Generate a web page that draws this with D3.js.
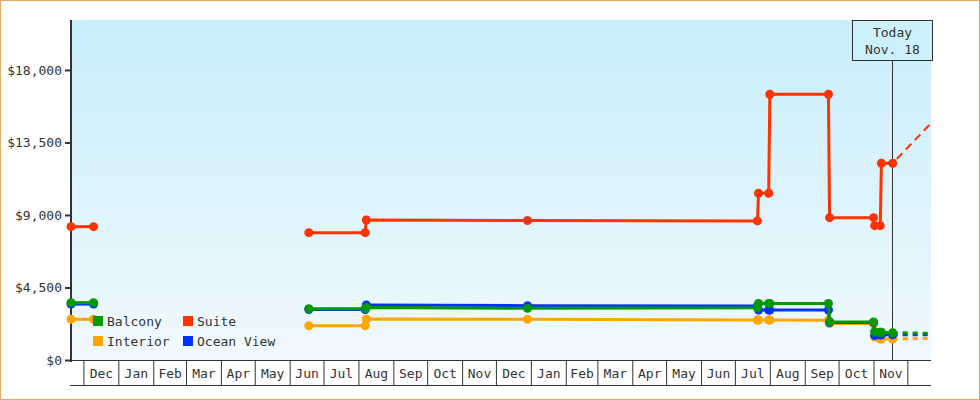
<!DOCTYPE html>
<html><head><meta charset="utf-8">
<script src="https://cdn.jsdelivr.net/npm/d3@7"></script>
<style>
body{margin:0;background:#fff}
svg{display:block}
text{font-family:"DejaVu Sans Mono",monospace;font-size:13px;fill:#333}
</style>
</head><body><svg id="c" width="980" height="400"></svg>
<script>
// ---- data ----
const dates = ["2023-11-20","2023-12-10","2024-06-18","2024-08-07","2024-08-08","2024-12-29","2025-07-21","2025-07-22","2025-07-31","2025-08-01","2025-09-22","2025-09-23","2025-11-01","2025-11-02","2025-11-07","2025-11-08","2025-11-18"];
const segment = [0,0,1,1,1,1,1,1,1,1,1,1,1,1,1,1,1];
const seriesNames = ["Suite","Interior","Ocean View","Balcony"];
const suite     = [8274,8274,7901,7901,8690,8660,8630,10347,10347,16492,16492,8832,8832,8336,8336,12209,12209];
const interior  = [2526,2526,2129,2129,2545,2526,2483,2483,2483,2483,2464,2266,2266,1428,1303,1303,1303];
const oceanView = [3470,3470,3130,3130,3414,3370,3352,3103,3103,3103,3103,2328,2328,1520,1550,1560,1570];
const balcony   = [3557,3557,3184,3184,3259,3209,3246,3507,3507,3507,3507,2377,2359,1757,1719,1719,1694];
const projectionDate = "2025-12-22";
const projectionEnd = [14692,1340,1570,1657]; // same order as seriesNames
const today = "2025-11-18";
const todayLabel = ["Today","Nov. 18"];
const yTicks = [0,4500,9000,13500,18000];
const yMax = 21100;
const legendOrder = ["Balcony","Suite","Interior","Ocean View"];

// ---- styles ----
const colors = {"Suite":"#ff3300","Interior":"#ffa500","Ocean View":"#0033ff","Balcony":"#009900"};
const values = {"Suite":suite,"Interior":interior,"Ocean View":oceanView,"Balcony":balcony};

const parse = d3.timeParse("%Y-%m-%d");
const svg = d3.select("#c");
const L = 71, R = 931, T = 20, B = 360;

const x = d3.scaleTime().domain([parse(dates[0]), parse(projectionDate)]).range([L, R]);
const y = d3.scaleLinear().domain([0, yMax]).range([B, T]);

// outer border
svg.append("rect").attr("x",0.5).attr("y",0.5).attr("width",979).attr("height",399)
  .attr("fill","#fff").attr("stroke","#eaa863").attr("stroke-width",1);

// gradient background
const defs = svg.append("defs");
const g = defs.append("linearGradient").attr("id","bg").attr("x1",0).attr("y1",0).attr("x2",0).attr("y2",1);
g.append("stop").attr("offset","0%").attr("stop-color","#c8eefc");
g.append("stop").attr("offset","100%").attr("stop-color","#f1f9fe");
svg.append("rect").attr("x",72).attr("y",T).attr("width",R-72).attr("height",B-T).attr("fill","url(#bg)");

// x axis band: month boundaries
const months = d3.timeMonth.range(d3.timeMonth.ceil(x.domain()[0]), x.domain()[1]);
const xAxis = d3.axisBottom(x).tickValues(months).tickSize(25).tickSizeOuter(0).tickFormat("");
const gx = svg.append("g").attr("transform",`translate(0,${B})`).call(xAxis);
gx.select(".domain").attr("stroke","#333").attr("d",`M${L},0.5H${R}`);
gx.selectAll(".tick line").attr("stroke","#333");
svg.append("line").attr("x1",70).attr("x2",R).attr("y1",385.5).attr("y2",385.5).attr("stroke","#333");

// month labels centred in full month cells
const fullMonths = months.filter(m => d3.timeMonth.offset(m,1) <= x.domain()[1]);
const mid = m => new Date((m.getTime() + d3.timeMonth.offset(m,1).getTime())/2);
const labelAxis = d3.axisBottom(x).tickValues(fullMonths.map(mid)).tickSize(0).tickPadding(0)
  .tickFormat(d => d3.timeFormat("%b")(d3.timeMonth.floor(d)));
const gl = svg.append("g").attr("transform",`translate(0,${B})`).call(labelAxis);
gl.select(".domain").remove();
gl.selectAll("text").attr("dy",null).attr("y",17.5).attr("fill","#333")
  .style("font-family",'"DejaVu Sans Mono",monospace').style("font-size","13px");

// y axis
const yAxis = d3.axisLeft(y).tickValues(yTicks).tickSize(5).tickPadding(3)
  .tickFormat(d => "$" + d3.format(",")(d));
const gy = svg.append("g").attr("transform",`translate(70,0)`).call(yAxis);
gy.select(".domain").remove();
gy.selectAll(".tick line").attr("stroke","#333").attr("stroke-width",2);
gy.selectAll("text").attr("fill","#333")
  .style("font-family",'"DejaVu Sans Mono",monospace').style("font-size","13px");
svg.append("line").attr("x1",71).attr("x2",71).attr("y1",T).attr("y2",362)
  .attr("stroke","#333").attr("stroke-width",2);

// today marker
const tx = Math.round(x(parse(today))) - 0.5;
svg.append("line").attr("x1",tx).attr("x2",tx).attr("y1",60).attr("y2",B)
  .attr("stroke","#333").attr("stroke-width",1);
svg.append("rect").attr("x",tx-40).attr("y",20.5).attr("width",80).attr("height",40)
  .attr("fill","#ccf0fc").attr("stroke","#333").attr("stroke-width",1);
svg.append("text").attr("x",tx).attr("y",37).attr("text-anchor","middle").text(todayLabel[0]);
svg.append("text").attr("x",tx).attr("y",54).attr("text-anchor","middle").text(todayLabel[1]);

// series
const line = d3.line().x(d => x(d.date)).y(d => y(d.v));
seriesNames.forEach((name, si) => {
  const pts = dates.map((d,i) => ({date: parse(d), v: values[name][i], seg: segment[i]}));
  const groups = d3.groups(pts, d => d.seg);
  const gs = svg.append("g");
  groups.forEach(([k, arr]) => {
    gs.append("path").attr("d", line(arr)).attr("fill","none")
      .attr("stroke", colors[name]).attr("stroke-width",3).attr("stroke-linejoin","round");
  });
  // projection
  const last = pts[pts.length-1];
  const proj = [last, {date: parse(projectionDate), v: projectionEnd[si]}];
  const isSuite = name === "Suite";
  gs.append("path").attr("d", line(proj)).attr("fill","none")
    .attr("stroke", colors[name]).attr("stroke-width", isSuite ? 2 : 3)
    .attr("stroke-dasharray", isSuite ? "8,5" : "5,5")
    .attr("stroke-dashoffset", isSuite ? 7 : 0);
  gs.selectAll("circle").data(pts).join("circle")
    .attr("cx", d => x(d.date)).attr("cy", d => y(d.v)).attr("r",4.5)
    .attr("fill", colors[name]);
});

// legend
const lg = svg.append("g");
legendOrder.forEach((name, i) => {
  const col = i % 2, row = Math.floor(i / 2);
  const lx = 93 + col * 90, ly = 316 + row * 20;
  lg.append("rect").attr("x",lx).attr("y",ly).attr("width",10).attr("height",10).attr("fill",colors[name]);
  lg.append("text").attr("x",lx+14).attr("y",ly+9.5).text(name);
});
</script>
</body></html>
